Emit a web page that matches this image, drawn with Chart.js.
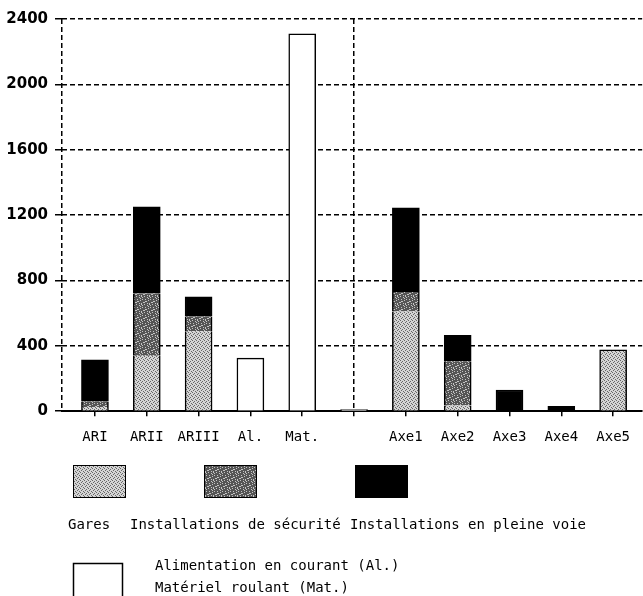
<!DOCTYPE html>
<html>
<head>
<meta charset="utf-8">
<script src="https://cdn.jsdelivr.net/npm/chart.js@4.4.0/dist/chart.umd.min.js"></script>
<style>
    html, body { margin: 0; padding: 0; background: #fff; }
    #wrap { width: 643px; height: 596px; position: relative; }
</style>
</head>
<body>
<div id="wrap"><canvas id="chart" width="643" height="596"></canvas></div>
<script>
// Categories and values
const categories = ['ARI', 'ARII', 'ARIII', 'Al.', 'Mat.', '', 'Axe1', 'Axe2', 'Axe3', 'Axe4', 'Axe5'];
const gares = [25, 340, 490, null, null, null, 610, 35, null, null, 375];
const securite = [35, 380, 90, null, null, null, 120, 270, null, null, null];
const pleineVoie = [255, 530, 120, null, null, null, 515, 160, 130, 30, null];
const alimMat = [null, null, null, 325, 2310, 10, null, null, null, null, null];
const yTicks = [0, 400, 800, 1200, 1600, 2000, 2400];

const legendItems = ['Gares', 'Installations de sécurité', 'Installations en pleine voie'];
const legendWhite = ['Alimentation en courant (Al.)', 'Matériel roulant (Mat.)'];

// Dotted screen-like patterns
function makePattern(bg, fg, pts, size) {
    const c = document.createElement('canvas');
    c.width = size; c.height = size;
    const g = c.getContext('2d');
    g.fillStyle = bg;
    g.fillRect(0, 0, size, size);
    g.fillStyle = fg;
    pts.forEach(p => g.fillRect(p[0], p[1], 1, 1));
    return g.createPattern(c, 'repeat');
}

const ctx = document.getElementById('chart').getContext('2d');
const garesFill = makePattern('#d4d4d4', '#666', [[0, 0], [2, 1], [1, 2], [3, 3]], 4);
const securiteFill = makePattern('#555', '#c4c4c4',
    [[0, 0], [3, 1], [5, 0], [1, 3], [6, 3], [2, 5], [4, 4], [7, 6], [0, 6], [5, 7], [3, 7], [6, 1], [1, 5], [4, 2]], 8);

function toPoints(arr) {
    return arr.map((v, i) => ({ x: i, y: v }));
}

// top border only where a segment is the top of its bar
function sideBorders(dsIndex) {
    return function (c) {
        const all = [gares, securite, pleineVoie, alimMat];
        let top = true;
        for (let k = dsIndex + 1; k < all.length; k++) {
            if (all[k][c.dataIndex] != null) top = false;
        }
        return { left: 1.5, right: 1.5, top: top ? 1.5 : 0, bottom: 0 };
    };
}

const xGridAt = (c) => {
    if (!c.tick) return 'transparent';
    return (c.tick.value === 5 || c.tick.value < 0) ? '#000' : 'transparent';
};

const legendPlugin = {
    id: 'pictureLegend',
    afterDraw(chart) {
        const g = chart.ctx;
        g.save();
        const boxes = [
            { x: 73, fill: garesFill },
            { x: 204, fill: securiteFill },
            { x: 355, fill: '#000' }
        ];
        boxes.forEach(b => {
            g.fillStyle = b.fill;
            g.fillRect(b.x, 465, 53, 33);
            g.strokeStyle = '#000';
            g.lineWidth = 1;
            g.strokeRect(b.x + 0.5, 465.5, 52, 32);
        });
        g.font = '14px "DejaVu Sans Mono"';
        g.fillStyle = '#000';
        g.textBaseline = 'middle';
        g.textAlign = 'left';
        g.fillText(legendItems[0], 68, 525);
        g.fillText(legendItems[1], 130, 525);
        g.fillText(legendItems[2], 350, 525);

        g.fillStyle = '#fff';
        g.fillRect(73, 563, 50, 40);
        g.lineWidth = 1.5;
        g.strokeRect(73.5, 563.5, 49, 40);
        g.fillStyle = '#000';
        g.fillText(legendWhite[0], 155, 566);
        g.fillText(legendWhite[1], 155, 588);
        g.restore();
    }
};

new Chart(ctx, {
    type: 'bar',
    data: {
        datasets: [
            {
                label: legendItems[0],
                data: toPoints(gares),
                backgroundColor: garesFill,
                borderColor: '#000',
                borderWidth: sideBorders(0),
                borderSkipped: false
            },
            {
                label: legendItems[1],
                data: toPoints(securite),
                backgroundColor: securiteFill,
                borderColor: '#000',
                borderWidth: sideBorders(1),
                borderSkipped: false
            },
            {
                label: legendItems[2],
                data: toPoints(pleineVoie),
                backgroundColor: '#000',
                borderColor: '#000',
                borderWidth: sideBorders(2),
                borderSkipped: false
            },
            {
                label: legendWhite.join(' / '),
                data: toPoints(alimMat),
                backgroundColor: '#fff',
                borderColor: '#000',
                borderWidth: { left: 1.5, right: 1.5, top: 1.5, bottom: 0 },
                borderSkipped: false
            }
        ]
    },
    options: {
        responsive: false,
        devicePixelRatio: 1,
        animation: false,
        barThickness: 27,
        layout: { padding: { top: 19, bottom: 137, left: 0, right: 0 } },
        plugins: {
            legend: { display: false },
            tooltip: { enabled: false }
        },
        scales: {
            x: {
                type: 'linear',
                min: -0.636,
                max: 10.56,
                offset: false,
                stacked: true,
                afterBuildTicks: s => {
                    s.ticks = [{ value: -0.636 }].concat(categories.map((c, i) => ({ value: i })));
                },
                ticks: {
                    autoSkip: false,
                    maxRotation: 0,
                    padding: 13,
                    color: '#000',
                    font: { family: 'DejaVu Sans Mono', size: 14 },
                    callback: v => (Number.isInteger(v) ? categories[v] : '')
                },
                grid: {
                    offset: false,
                    color: xGridAt,
                    lineWidth: 1.5,
                    tickLength: 5,
                    tickWidth: 1.5,
                    tickColor: c => (c.tick && c.tick.value < 0 ? 'transparent' : '#000'),
                    tickBorderDash: []
                },
                border: { display: true, color: '#000', width: 2, dash: [5, 3] }
            },
            y: {
                min: 0,
                max: 2400,
                stacked: true,
                afterBuildTicks: s => { s.ticks = yTicks.map(v => ({ value: v })); },
                afterFit: s => { s.width = 62; },
                ticks: {
                    padding: 7,
                    color: '#000',
                    font: { family: 'DejaVu Sans', size: 15, weight: 'bold' },
                    callback: v => String(v)
                },
                grid: {
                    color: '#000',
                    lineWidth: 1.5,
                    tickLength: 7,
                    tickWidth: 1.5,
                    tickColor: '#000',
                    tickBorderDash: []
                },
                border: { display: false, dash: [5, 3] }
            }
        }
    },
    plugins: [legendPlugin]
});
</script>
</body>
</html>
